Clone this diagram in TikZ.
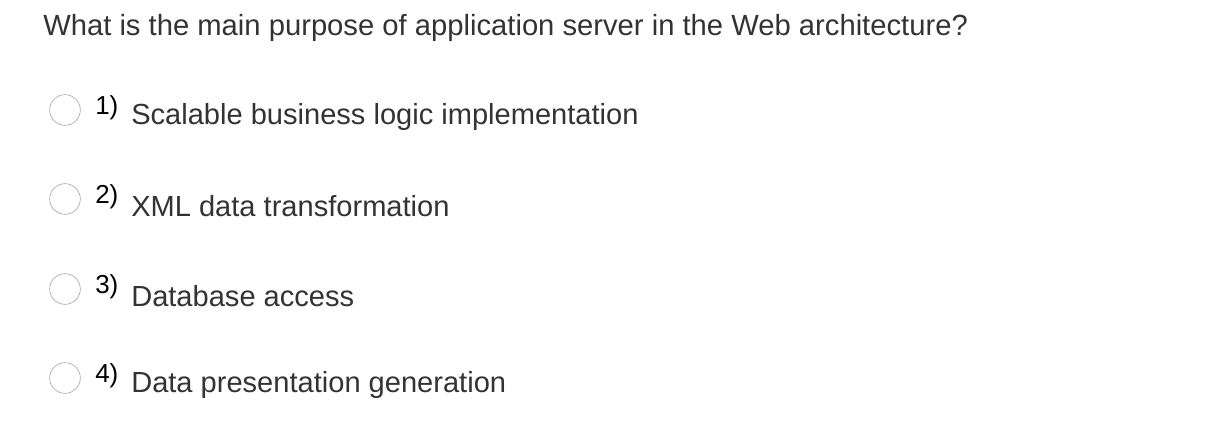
\documentclass[tikz,border=0pt]{standalone}
\usepackage{fontspec}
\setmainfont{Liberation Sans}
\definecolor{txtgray}{HTML}{333333}
\definecolor{ringgray}{HTML}{9A9A9A}
\tikzset{
  radio/.style={circle, draw=ringgray, fill=white, minimum size=23pt, inner sep=0pt},
  num/.style={anchor=west, inner sep=0pt, text=black, font=\fontsize{19.5}{23}\selectfont},
  answer/.style={anchor=west, inner sep=0pt, text=txtgray, font=\fontsize{21.8}{26}\selectfont},
}
\begin{document}
\begin{tikzpicture}[x=0.75pt, y=-0.75pt]
  \useasboundingbox (0,0) rectangle (1210,436);
  \node[anchor=west, inner sep=0pt, text=txtgray, font=\fontsize{21.9}{26}\selectfont] (question) at (43,28) {What is the main purpose of application server in the Web architecture?};
  % answers
  \foreach \i/\y/\txt in {1/110/Scalable business logic implementation,
                          2/199/XML data transformation,
                          3/289/Database access,
                          4/378/Data presentation generation}{
    \node[radio] (radio\i) at (65,\y) {};
    \node[num] (num\i) at (95,\y-2) {\i)};
    \node[answer] (ans\i) at (131,\y+7) {\txt};
  }
\end{tikzpicture}
\end{document}
